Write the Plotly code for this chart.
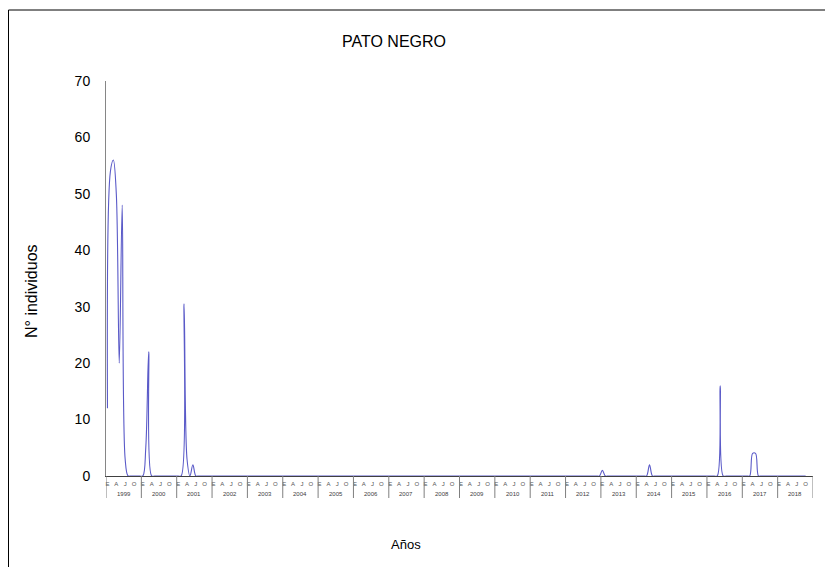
import plotly.graph_objects as go

# ---- data (monthly counts, Jan..Dec per year) ----
years = list(range(1999, 2019))
month_labels = ["E", "A", "J", "O"]          # enero, abril, julio, octubre
month_label_idx = [0, 3, 6, 9]

y1999 = [12, 54, 56, 50, 20, 48, 3, 0, 0, 0, 0, 0]
y2000 = [0, 5, 22, 0, 0, 0, 0, 0, 0, 0, 0, 0]
y2001 = [0, 0, 30.5, 3, 0, 2, 0, 0, 0, 0, 0, 0]
y2002 = [0, 0, 0, 0, 0, 0, 0, 0, 0, 0, 0, 0]
y2003 = [0, 0, 0, 0, 0, 0, 0, 0, 0, 0, 0, 0]
y2004 = [0, 0, 0, 0, 0, 0, 0, 0, 0, 0, 0, 0]
y2005 = [0, 0, 0, 0, 0, 0, 0, 0, 0, 0, 0, 0]
y2006 = [0, 0, 0, 0, 0, 0, 0, 0, 0, 0, 0, 0]
y2007 = [0, 0, 0, 0, 0, 0, 0, 0, 0, 0, 0, 0]
y2008 = [0, 0, 0, 0, 0, 0, 0, 0, 0, 0, 0, 0]
y2009 = [0, 0, 0, 0, 0, 0, 0, 0, 0, 0, 0, 0]
y2010 = [0, 0, 0, 0, 0, 0, 0, 0, 0, 0, 0, 0]
y2011 = [0, 0, 0, 0, 0, 0, 0, 0, 0, 0, 0, 0]
y2012 = [0, 0, 0, 0, 0, 0, 0, 0, 0, 0, 0, 0]
y2013 = [1, 0, 0, 0, 0, 0, 0, 0, 0, 0, 0, 0]
y2014 = [0, 0, 0, 0, 2, 0, 0, 0, 0, 0, 0, 0]
y2015 = [0, 0, 0, 0, 0, 0, 0, 0, 0, 0, 0, 0]
y2016 = [0, 0, 0, 0, 16, 0, 0, 0, 0, 0, 0, 0]
y2017 = [0, 0, 0, 4, 4, 0, 0, 0, 0, 0, 0, 0]
y2018 = [0, 0, 0, 0, 0, 0, 0, 0, 0, 0]

series = [y1999, y2000, y2001, y2002, y2003, y2004, y2005, y2006, y2007, y2008,
          y2009, y2010, y2011, y2012, y2013, y2014, y2015, y2016, y2017, y2018]

# ---- build category positions ----
xs, ys = [], []
for k, vals in enumerate(series):
    for m, v in enumerate(vals):
        xs.append(12 * k + m + 0.5)
        ys.append(v)

tickvals, ticktext = [], []
for k, _ in enumerate(years):
    for lab, m in zip(month_labels, month_label_idx):
        tickvals.append(12 * k + m + 0.5)
        ticktext.append(lab)

FONT = "Liberation Sans, Arial, sans-serif"
W, H = 833, 567
OFF = 8  # page body margin offset
# desired plot area on screen: x 106..813, y 81..476
SL, SR, ST, SB = 106, 813, 81, 476
L, T = SL - OFF, ST - OFF
R, B = W - (SR - OFF), H - (SB - OFF)
pw, ph = SR - SL, SB - ST

def px(x):  # screen x -> paper
    return (x - SL) / pw

def py(y):  # screen y -> paper
    return (SB - y) / ph

fig = go.Figure()
fig.add_trace(go.Scatter(
    x=xs, y=ys, mode="lines",
    line=dict(color="#5a5ac8", width=1.1, shape="spline", smoothing=1),
    cliponaxis=False, hoverinfo="skip", showlegend=False,
))

shapes = []
# year divider lines
for k in range(len(years) + 1):
    shapes.append(dict(type="line", xref="x", yref="paper",
                       x0=12 * k, x1=12 * k, y0=0, y1=py(498),
                       line=dict(color="#7f7f7f", width=1)))
# outer frame
shapes.append(dict(type="rect", xref="paper", yref="paper",
                   x0=px(8.5), x1=px(860), y0=py(600), y1=py(10),
                   line=dict(color="#000000", width=1), layer="below"))

annotations = []
for k, yr in enumerate(years):
    annotations.append(dict(x=12 * k + 6, y=py(494), xref="x", yref="paper",
                            text=str(yr), showarrow=False,
                            font=dict(family=FONT, size=6, color="#404040"),
                            xanchor="center", yanchor="middle"))
annotations.append(dict(x=px(394), y=py(42), xref="paper", yref="paper",
                        text="PATO NEGRO", showarrow=False,
                        font=dict(family=FONT, size=16, color="#000000"),
                        xanchor="center", yanchor="middle"))
annotations.append(dict(x=px(31), y=py(291), xref="paper", yref="paper",
                        text="N° individuos", showarrow=False, textangle=-90,
                        font=dict(family=FONT, size=16, color="#000000"),
                        xanchor="center", yanchor="middle"))
annotations.append(dict(x=px(406), y=py(544), xref="paper", yref="paper",
                        text="Años", showarrow=False,
                        font=dict(family=FONT, size=13, color="#000000"),
                        xanchor="center", yanchor="middle"))

fig.update_layout(
    width=W, height=H,
    margin=dict(l=L, r=R, t=T, b=B, pad=0),
    paper_bgcolor="white", plot_bgcolor="white",
    font=dict(family=FONT),
    shapes=shapes, annotations=annotations,
    xaxis=dict(range=[0, 12 * len(years)], showgrid=False, zeroline=False,
               showline=True, linecolor="#404040", linewidth=1,
               tickmode="array", tickvals=tickvals, ticktext=ticktext,
               ticks="", tickfont=dict(family=FONT, size=6, color="#555555"),
               ticklabelstandoff=2, layer="below traces", fixedrange=True),
    yaxis=dict(range=[0, 70], dtick=10, showgrid=False, zeroline=False,
               showline=True, linecolor="#868686", linewidth=1,
               ticks="", tickfont=dict(family=FONT, size=14, color="#000000"),
               ticklabelstandoff=12, layer="below traces", fixedrange=True),
)

fig.write_html("out.html")
